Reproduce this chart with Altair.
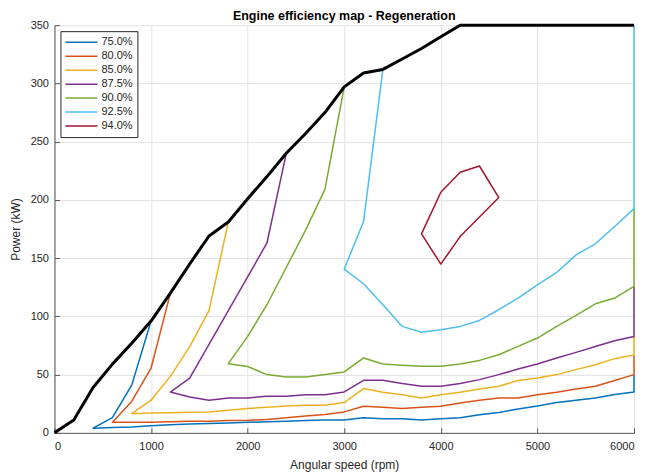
import altair as alt
import pandas as pd

FONT = "Liberation Sans"

levels = ["75.0%", "80.0%", "85.0%", "87.5%", "90.0%", "92.5%", "94.0%"]
colors = ["#0072BD", "#D95319", "#EDB120", "#7E2F8E", "#77AC30", "#4DBEEE", "#A2142F"]

x_ticks = [0, 1000, 2000, 3000, 4000, 5000, 6000]
y_ticks = [0, 50, 100, 150, 200, 250, 300, 350]

# maximum power envelope
env_rpm = [0, 200, 400, 600, 800, 1000, 1200, 1400, 1600, 1800, 2000, 2200, 2400,
           2600, 2800, 3000, 3200, 3400, 3600, 3800, 4000, 4200, 6000]
env_kw = [0, 11, 39, 59, 77, 96, 120, 145, 169, 181, 201, 220, 240,
          257, 275, 297, 309, 312, 321, 330, 340, 350, 350]

# efficiency contour lines
c75_rpm = [1000, 800, 600, 400, 600, 800, 1000, 1200, 1400, 1600, 1800, 2000, 2200, 2400,
           2600, 2800, 3000, 3200, 3400, 3600, 3800, 4000, 4200, 4400, 4600, 4800, 5000,
           5200, 5400, 5600, 5800, 6000, 6000]
c75_kw = [96, 41, 13, 4, 4.5, 5, 6, 7, 7.5, 8, 8.5, 9, 9.5, 10,
          10.5, 11, 11, 13, 12, 12, 11, 12, 13, 15.5, 17.5, 20.5, 23,
          26, 28, 30, 33, 35, 50]

c80_rpm = [1200, 1000, 800, 600, 800, 1000, 1200, 1400, 1600, 1800, 2000, 2200, 2400,
           2600, 2800, 3000, 3200, 3400, 3600, 3800, 4000, 4200, 4400, 4600, 4800, 5000,
           5200, 5400, 5600, 5800, 6000, 6000]
c80_kw = [120, 55.5, 27, 9, 9, 9, 9.5, 10, 10, 10.5, 10.8, 11.5, 13,
          14.5, 15.8, 18, 22.8, 22, 20.8, 22, 22.8, 25.7, 28, 30, 30, 32.8,
          34.8, 37.7, 40, 45, 50, 66.5]

c85_rpm = [1800, 1600, 1400, 1200, 1000, 800, 1000, 1200, 1400, 1600, 1800, 2000, 2200,
           2400, 2600, 2800, 3000, 3200, 3400, 3600, 3800, 4000, 4200, 4400, 4600, 4800,
           5000, 5200, 5400, 5600, 5800, 6000, 6000]
c85_kw = [181, 105, 74, 48.5, 28, 16.5, 17, 17.3, 17.6, 18, 19.5, 21, 22,
          23, 23.7, 23.7, 26, 38, 34.8, 32.8, 30, 32.8, 34.8, 37.7, 40, 45,
          47, 50, 54.3, 58.5, 63.7, 66.8, 82.8]

c875_rpm = [2400, 2200, 1400, 1200, 1400, 1600, 1800, 2000, 2200, 2400, 2600, 2800, 3000,
            3200, 3400, 3600, 3800, 4000, 4200, 4400, 4600, 4800, 5000, 5200, 5400, 5600,
            5800, 6000, 6000]
c875_kw = [240, 163, 47, 35, 30.8, 28, 30, 30, 31.4, 31.4, 32.8, 32.8, 35.1,
           45.1, 45.1, 42.3, 40, 40, 42.3, 45.7, 50, 54.8, 59.1, 64.3, 69.1, 74.2,
           79.1, 82.8, 125.7]

c90_rpm = [3000, 2800, 2600, 2200, 2000, 1800, 2000, 2200, 2400, 2600, 2800, 3000, 3200,
           3400, 3600, 3800, 4000, 4200, 4400, 4600, 4800, 5000, 5200, 5400, 5600, 5800,
           6000, 6000]
c90_kw = [297, 209, 174, 110, 82.8, 59.4, 57, 50, 48, 48, 50, 52.3, 64.3,
          59.1, 58, 57.1, 57.1, 59.1, 62.2, 67.1, 74.2, 81.4, 91.4, 100.8, 110.8, 115.7,
          125.7, 192.5]

c925_rpm = [3400, 3200, 3000, 3200, 3400, 3600, 3800, 4000, 4200, 4400, 4600, 4800, 5000,
            5200, 5400, 5600, 5800, 6000, 6000]
c925_kw = [312, 181.4, 140.6, 128, 110, 91.4, 86.3, 88.5, 91.4, 96.5, 105.7, 115.7, 127.1,
           137.7, 152.8, 162.3, 177.1, 192.5, 350]

c94_rpm = [4000, 4200, 4400, 4600, 4200, 4000, 3800, 4000]
c94_kw = [206.6, 223.7, 229.1, 202, 168.5, 144.9, 170.8, 206.6]

series = [
    ("75.0%", c75_rpm, c75_kw),
    ("80.0%", c80_rpm, c80_kw),
    ("85.0%", c85_rpm, c85_kw),
    ("87.5%", c875_rpm, c875_kw),
    ("90.0%", c90_rpm, c90_kw),
    ("92.5%", c925_rpm, c925_kw),
    ("94.0%", c94_rpm, c94_kw),
]

rows = []
for lvl, rr, kk in series:
    for i, (r, k) in enumerate(zip(rr, kk)):
        rows.append({"level": lvl, "i": i, "rpm": r, "kw": k})
df = pd.DataFrame(rows)
env_df = pd.DataFrame({"i": list(range(len(env_rpm))), "rpm": env_rpm, "kw": env_kw})

xscale = alt.Scale(domain=[0, 6000], nice=False, zero=True)
yscale = alt.Scale(domain=[0, 350], nice=False, zero=True)

main_x = alt.Axis(values=x_ticks, title="Angular speed (rpm)", ticks=False, grid=True,
                  labelPadding=8, titlePadding=8, format="d")
main_y = alt.Axis(values=y_ticks, title="Power (kW)", ticks=False, grid=True,
                  labelPadding=6, titlePadding=8, format="d")

contours = alt.Chart(df).mark_line(strokeWidth=1.5, strokeJoin="round").encode(
    x=alt.X("rpm:Q", scale=xscale, axis=main_x),
    y=alt.Y("kw:Q", scale=yscale, axis=main_y),
    color=alt.Color(
        "level:N",
        scale=alt.Scale(domain=levels, range=colors),
        legend=alt.Legend(
            title=None, orient="none", legendX=6, legendY=6,
            symbolType="stroke", symbolSize=1024, symbolStrokeWidth=1.5,
            labelFontSize=11, labelFont=FONT, labelColor="#262626",
            labelOffset=3, rowPadding=0, clipHeight=14, padding=4,
            strokeColor="#262626", fillColor="white", cornerRadius=0,
        ),
    ),
    order="i:Q",
)

tick_x = alt.Axis(values=x_ticks, orient="bottom", offset=-5, ticks=True, tickSize=5,
                  labels=False, domain=False, grid=False, title=None, tickColor="#555555")
tick_y = alt.Axis(values=y_ticks, orient="left", offset=-5, ticks=True, tickSize=5,
                  labels=False, domain=False, grid=False, title=None, tickColor="#555555")

envelope = alt.Chart(env_df).mark_line(color="black", strokeWidth=3, strokeJoin="round").encode(
    x=alt.X("rpm:Q", scale=xscale, axis=tick_x),
    y=alt.Y("kw:Q", scale=yscale, axis=tick_y),
    order="i:Q",
)

chart = alt.layer(contours, envelope).resolve_axis(
    x="independent", y="independent"
).properties(
    width=580,
    height=408,
    autosize=alt.AutoSizeParams(type="none"),
    padding={"left": 46.5, "top": 17, "right": 5, "bottom": 45},
    title=alt.Title("Engine efficiency map - Regeneration", fontSize=12.5, font=FONT,
                    fontWeight="bold", color="#000000", anchor="middle", offset=-3),
).configure_axis(
    labelFont=FONT, titleFont=FONT, labelFontSize=11, titleFontSize=12,
    labelColor="#262626", titleColor="#262626", titleFontWeight="normal",
    domainColor="#555555", domainWidth=1, gridColor="#e2e2e2", gridWidth=1,
).configure_view(stroke=None)

chart.save("out.html", embed_options={"renderer": "svg", "actions": False})
